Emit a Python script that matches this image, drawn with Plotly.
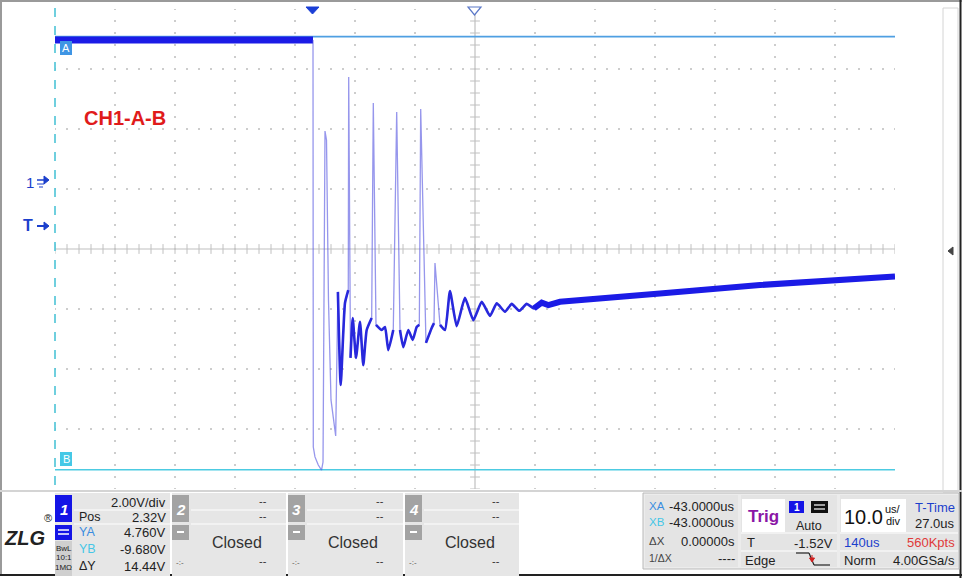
import numpy as np
import plotly.graph_objects as go

# ---------------- data ----------------
# time relative to trigger in microseconds, voltage in volts
pre_t = [-43.0, 0.0]
pre_v = [4.65, 4.65]

wave_t = [0.0, 0.05, 0.33, 0.88, 1.42, 1.67, 2.0, 2.25, 2.58, 3.0, 3.78, 4.15, 4.62,
          5.33, 5.88, 5.95, 6.25, 6.62, 7.17, 7.83, 8.38, 8.95, 9.78, 10.05, 10.5,
          11.45, 12.0, 12.55, 13.38, 13.95, 14.5, 15.05, 15.88, 16.62, 17.28, 17.72,
          17.95, 18.83, 19.78, 20.17, 20.33, 21.17, 22.0, 22.83, 23.95, 25.33, 26.72,
          28.12, 29.5, 30.62, 32.0, 33.12, 34.38, 35.62, 36.83, 38.12, 39.22, 41.17,
          57.83, 74.5, 97.0]
wave_v = [4.65, -8.92, -9.25, -9.52, -9.69, -9.42, 1.61, 1.31, -4.02, -7.35, -8.55, -3.75, -6.85,
          -4.12, -3.69, 3.41, -5.95, -4.62, -5.95, -4.75, -6.19, -5.02, -4.62, 2.55, -4.85,
          -5.02, -4.92, -5.69, -5.02, 2.25, -5.02, -5.59, -5.02, -5.35, -4.92, -4.85,
          2.35, -5.45, -4.95, -4.79, -2.79, -4.85, -5.02, -3.72, -4.89, -3.95, -4.69,
          -4.08, -4.55, -4.13, -4.41, -4.15, -4.38, -4.15, -4.30, -4.11, -4.19, -4.08,
          -3.80, -3.52, -3.24]

cursor_ya = 4.760
cursor_yb = -9.680
cursor_x = -43.0
trig_level = -1.52
volts_per_div = 2.0
pos_offset = 2.32
us_per_div = 10.0
t_time = 27.0

ch1_rows = [("", "2.00V/div"), ("Pos", "2.32V"), ("YA", "4.760V"), ("YB", "-9.680V"), ("\u0394Y", "14.44V")]
meas_rows = [("XA", "-43.0000us"), ("XB", "-43.0000us"), ("\u0394X", "0.00000s"), ("1/\u0394X", "----")]

# ---------------- geometry ----------------
W, H = 962, 578
L, R, T, B = 55, 895, 9, 489
x_lo = cursor_x
x_hi = x_lo + 14 * us_per_div
y_center = -pos_offset
y_lo = y_center - 4 * volts_per_div
y_hi = y_center + 4 * volts_per_div
t_center = x_lo + 7 * us_per_div


def px(x):
    return (x - L) / (R - L)


def py(y):
    return (B - y) / (B - T)


shapes = []
annos = []


def rect(x0, y0, x1, y1, fill, line=None, lw=1, layer="above"):
    shapes.append(dict(type="rect", xref="paper", yref="paper", x0=px(x0), x1=px(x1),
                       y0=py(y1), y1=py(y0), fillcolor=fill, layer=layer,
                       line=dict(color=line or fill, width=lw if line else 0)))


def line(x0, y0, x1, y1, color, lw=1, dash="solid", layer="above"):
    shapes.append(dict(type="line", xref="paper", yref="paper", x0=px(x0), x1=px(x1),
                       y0=py(y0), y1=py(y1), layer=layer,
                       line=dict(color=color, width=lw, dash=dash)))


def poly(pts, fill, line_color=None, lw=1):
    d = "M " + " L ".join(f"{px(a)},{py(b)}" for a, b in pts) + " Z"
    shapes.append(dict(type="path", xref="paper", yref="paper", path=d, fillcolor=fill,
                       line=dict(color=line_color or fill, width=lw), layer="above"))


def text(x, y, s, size=12, color="#222", anchor="left", family="Liberation Sans", bold=False, italic=False):
    if bold:
        s = "<b>" + s + "</b>"
    if italic:
        s = "<i>" + s + "</i>"
    annos.append(dict(xref="paper", yref="paper", x=px(x), y=py(y), text=s, showarrow=False,
                      xanchor=anchor, yanchor="middle", borderpad=0,
                      font=dict(size=size, color=color, family=family)))


fig = go.Figure()

# ---------------- graticule ----------------
dots_x, dots_y = [], []
for k in range(1, 14):
    if k == 7:
        continue
    tx = x_lo + k * us_per_div
    for yy in np.arange(y_lo, y_hi + 1e-6, volts_per_div / 5):
        dots_x.append(tx)
        dots_y.append(yy)
for k in range(1, 8):
    if k == 4:
        continue
    vy = y_lo + k * volts_per_div
    for xx in np.arange(x_lo, x_hi + 1e-6, us_per_div / 5):
        dots_x.append(xx)
        dots_y.append(vy)
fig.add_trace(go.Scatter(x=dots_x, y=dots_y, mode="markers", hoverinfo="skip",
                         marker=dict(size=2.0, color="#cdcdcd", symbol="square")))

# centre cross with ticks
fig.add_shape(type="line", xref="x", yref="y", x0=x_lo, x1=x_hi, y0=y_center, y1=y_center,
              line=dict(color="#c0c0c0", width=1.2), layer="below")
fig.add_shape(type="line", xref="x", yref="y", x0=t_center, x1=t_center, y0=y_lo, y1=y_hi,
              line=dict(color="#c0c0c0", width=1.2), layer="below")
tx_ticks = np.arange(x_lo, x_hi + 1e-6, us_per_div / 5)
fig.add_trace(go.Scatter(x=tx_ticks, y=[y_center] * len(tx_ticks), mode="markers", hoverinfo="skip",
                         marker=dict(symbol="line-ns", size=7, line=dict(color="#c0c0c0", width=1))))
ty_ticks = np.arange(y_lo, y_hi + 1e-6, volts_per_div / 5)
fig.add_trace(go.Scatter(x=[t_center] * len(ty_ticks), y=ty_ticks, mode="markers", hoverinfo="skip",
                         marker=dict(symbol="line-ew", size=7, line=dict(color="#c0c0c0", width=1))))

# cursors
fig.add_trace(go.Scatter(x=[x_lo, x_hi], y=[cursor_ya, cursor_ya], mode="lines", hoverinfo="skip",
                         line=dict(color="#4f9fe2", width=1.6)))
fig.add_trace(go.Scatter(x=[x_lo, x_hi], y=[cursor_yb, cursor_yb], mode="lines", hoverinfo="skip",
                         line=dict(color="#4ccbe2", width=1.6)))

# ---------------- waveform ----------------
fig.add_trace(go.Scatter(x=pre_t, y=pre_v, mode="lines", hoverinfo="skip",
                         line=dict(color="#1b1be6", width=7)))
fig.add_trace(go.Scatter(x=wave_t, y=wave_v, mode="lines", hoverinfo="skip",
                         line=dict(color="rgba(85,85,225,0.62)", width=1.3)))
bold_v = [v if (-7.0 <= v <= -3.4) else None for v in wave_v]
fig.add_trace(go.Scatter(x=wave_t, y=bold_v, mode="lines", hoverinfo="skip", connectgaps=False,
                         line=dict(color="#2828dc", width=2.6, shape="spline", smoothing=0.5)))
ramp_v = [v if t >= 36.0 else None for t, v in zip(wave_t, wave_v)]
fig.add_trace(go.Scatter(x=wave_t, y=ramp_v, mode="lines", hoverinfo="skip", connectgaps=False,
                         line=dict(color="#1b1be6", width=6)))

# ---------------- frame around the display ----------------
line(L, T - 1, R, T - 1, "#cfcfcf", 1)
line(R, T - 1, R, B + 1, "#c8c8c8", 1.5)
line(L, T - 1, L, B + 1, "#4cc4d6", 1.6, dash="dash")

# cursor labels
rect(60, 41, 72, 55, "#3f95e4")
text(66, 48, "A", 11, "white", "center")
rect(60, 452, 72, 466, "#45c8e6")
text(66, 459, "B", 11, "white", "center")

# trigger / centre markers on top
poly([(306, 7), (319, 7), (312.5, 14)], "#1b3fd6")
poly([(468, 7), (481, 7), (474.5, 15)], "white", "#5b78c8", 1.2)

# left side channel / trigger markers
text(30, 182, "1", 15, "#1b3fcc", "center")
line(37, 184, 44, 184, "#1b3fcc", 1)
line(39, 187, 43, 187, "#1b3fcc", 1)
line(37, 180, 45, 180, "#1b3fcc", 1.5)
poly([(44, 176), (49, 180), (44, 184)], "#1b3fcc")
text(28, 226, "T", 16, "#1b3fcc", "center", bold=True)
line(37, 226, 45, 226, "#1b3fcc", 2)
poly([(44, 222), (49, 226), (44, 230)], "#1b3fcc")

# title
text(83, 118, "CH1-A-B", 20, "#e01b1b", "left", bold=True)

# right strip
rect(943, 8, 958, 492, "white", "#d4d4d4", 1)
poly([(948, 251), (953, 247), (953, 255)], "#444")

# outer border
line(1, 0, 1, 576, "#9a9a9a", 2)
line(0, 1, 962, 1, "#9a9a9a", 2)
line(960.5, 0, 960.5, 578, "#222", 2)
line(0, 491, 962, 491, "#d4d4d4", 2)
line(0, 575, 962, 575, "#222", 2)

# ---------------- bottom panel ----------------
# logo
text(24, 538, "ZLG", 20, "#222", "center", bold=True, italic=True)
text(48, 518, "\u00ae", 11, "#222", "center")

# CH1 panel
rect(55, 493, 170, 576, "#e6e6e6")
rect(55, 495, 72, 522, "#1414e6")
text(63.5, 509, "1", 15, "white", "center", bold=True, italic=True)
rect(55, 525, 72, 540, "#1414e6")
line(58, 530, 69, 530, "white", 1.5)
line(58, 534, 69, 534, "white", 1.5)
rect(55, 541, 72, 576, "#cfcfcf")
text(63.5, 548, "BwL", 8, "#222", "center")
text(63.5, 557, "10:1", 8, "#222", "center")
text(63.5, 567, "1M\u03a9", 8, "#222", "center")
line(74, 510, 170, 510, "#f6f6f6", 1.5)
line(74, 524, 170, 524, "#f6f6f6", 1.5)
ch1_y = [503, 517, 532, 549, 566]
ch1_lab_col = ["#222", "#222", "#3a8de0", "#45c6e6", "#222"]
for (lab, val), yy, cc in zip(ch1_rows, ch1_y, ch1_lab_col):
    if lab:
        text(78, yy, lab, 12.5, cc, "left")
    text(167, yy, val, 13, "#222", "right")

# closed channels
for num, x0, x1 in [("2", 172, 286), ("3", 288, 403), ("4", 405, 519)]:
    rect(x0, 493, x1, 576, "#e6e6e6")
    rect(x0, 495, x0 + 17, 522, "#a3a3a3")
    text(x0 + 8.5, 509, num, 15, "white", "center", bold=True, italic=True)
    rect(x0, 525, x0 + 17, 540, "#a3a3a3")
    line(x0 + 5, 532, x0 + 12, 532, "white", 2)
    line(x0 + 19, 510, x1, 510, "#f6f6f6", 1.5)
    line(x0 + 19, 524, x1, 524, "#f6f6f6", 1.5)
    text(x1 - 18, 501, "--", 11, "#333", "right")
    text(x1 - 18, 516, "--", 11, "#333", "right")
    text((x0 + 19 + x1) / 2 - 2, 542, "Closed", 16, "#333", "center")
    text(x0 + 3, 562, "-:-", 8, "#555", "left")
    text(x1 - 18, 561, "--", 11, "#333", "right")

# measurement / trigger / timebase area
rect(643, 493, 959, 569, "#ececec", "#b8b8b8", 1)
rect(645, 495, 738, 567, "#e4e4e4")
meas_y = [506, 522, 541, 558]
meas_col = ["#3a8de0", "#45c6e6", "#444", "#444"]
for (lab, val), yy, cc in zip(meas_rows, meas_y, meas_col):
    text(648, yy, lab, 11.5 if len(lab) < 3 else 10.5, cc, "left")
    text(736, yy, val, 13, "#222", "right")

rect(741, 495, 837, 567, "#e4e4e4")
rect(742, 499, 785, 532, "white")
text(763.5, 516, "Trig", 17, "#8a16a6", "center", bold=True)
rect(789, 501, 804, 513, "#1414e6")
text(796.5, 507, "1", 10, "white", "center", bold=True)
rect(811, 501, 828, 513, "#111")
line(814, 505, 825, 505, "white", 1.2)
line(814, 509, 825, 509, "white", 1.2)
text(809, 526, "Auto", 12.5, "#222", "center")
line(741, 533, 837, 533, "#f6f6f6", 1.5)
text(746, 542, "T", 13, "#222", "left")
text(834, 543, f"{trig_level:.2f}V", 13, "#222", "right")
line(741, 551, 837, 551, "#f6f6f6", 1.5)
text(744, 560, "Edge", 13, "#222", "left")
line(796, 553, 809, 553, "#222", 1.2)
line(809, 553, 814, 565, "#222", 1.2)
line(814, 565, 830, 565, "#222", 1.2)
line(812, 555, 812, 561, "#d02020", 1)
poly([(809.5, 558), (814.5, 558), (812, 562)], "#d02020")

rect(840, 495, 958, 567, "#e4e4e4")
rect(841, 499, 906, 532, "white")
text(863, 517, f"{us_per_div:.1f}", 20, "#111", "center")
text(893, 509, "us/", 11, "#111", "center")
text(893, 521, "div", 11, "#111", "center")
text(956, 507, "T-Time", 13, "#1b3fcc", "right")
text(956, 523, f"{t_time:.1f}us", 13, "#222", "right")
line(840, 533, 958, 533, "#f6f6f6", 1.5)
text(843, 542, "140us", 13, "#1b3fcc", "left")
text(956, 542, "560Kpts", 13, "#e03a3a", "right")
line(840, 551, 958, 551, "#f6f6f6", 1.5)
text(843, 560, "Norm", 13, "#222", "left")
text(956, 560, "4.00GSa/s", 13, "#222", "right")

fig.update_layout(
    width=W, height=H,
    margin=dict(l=L, r=W - R, t=T, b=H - B, pad=0),
    paper_bgcolor="white", plot_bgcolor="white",
    showlegend=False,
    xaxis=dict(range=[x_lo, x_hi], showgrid=False, zeroline=False, showticklabels=False,
               ticks="", showline=False, fixedrange=True),
    yaxis=dict(range=[y_lo, y_hi], showgrid=False, zeroline=False, showticklabels=False,
               ticks="", showline=False, fixedrange=True),
    shapes=shapes,
    annotations=annos,
)

fig.write_html("out.html", include_plotlyjs=True, config={"displayModeBar": False, "staticPlot": True},
               post_script="document.body.style.margin='0';document.body.style.overflow='hidden';")
